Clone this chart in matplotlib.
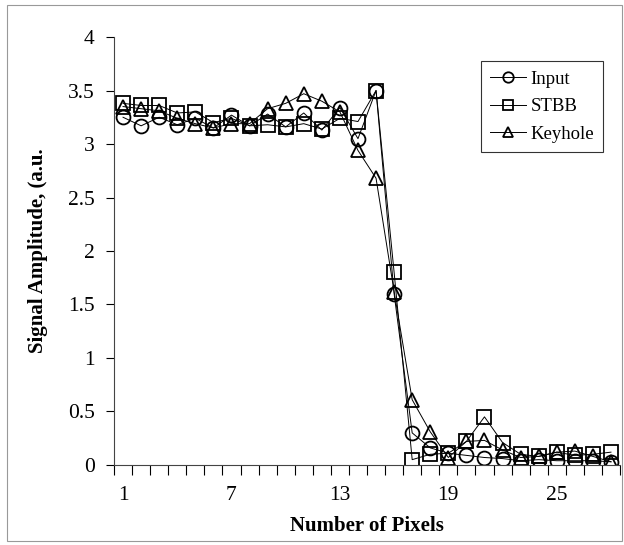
import numpy as np
import matplotlib
matplotlib.use("Agg")
import matplotlib.pyplot as plt
from matplotlib.patches import Rectangle

# pixel index (category axis)
pixels = list(range(1, 29))

input_signal = [3.25, 3.17, 3.25, 3.18, 3.24, 3.15, 3.27, 3.17, 3.28, 3.16,
                3.29, 3.13, 3.34, 3.05, 3.50, 1.60, 0.30, 0.16, 0.11, 0.09,
                0.07, 0.06, 0.04, 0.05, 0.04, 0.04, 0.04, 0.03]
stbb = [3.38, 3.36, 3.36, 3.29, 3.30, 3.20, 3.24, 3.17, 3.18, 3.16,
        3.19, 3.14, 3.24, 3.21, 3.50, 1.80, 0.05, 0.10, 0.11, 0.22,
        0.45, 0.21, 0.10, 0.08, 0.12, 0.09, 0.10, 0.12]
keyhole = [3.35, 3.33, 3.31, 3.24, 3.19, 3.15, 3.19, 3.19, 3.33, 3.38,
           3.47, 3.40, 3.30, 2.94, 2.68, 1.62, 0.61, 0.31, 0.07, 0.22,
           0.23, 0.14, 0.07, 0.08, 0.12, 0.13, 0.08, 0.03]

series = [
    ("Input", input_signal, "o"),
    ("STBB", stbb, "s"),
    ("Keyhole", keyhole, "^"),
]

xtick_labels = [1, 7, 13, 19, 25]
yticks = np.arange(0, 4.01, 0.5)

plt.rcParams["font.family"] = ["Liberation Serif", "DejaVu Serif"]

fig = plt.figure(figsize=(6.24, 5.45), dpi=100)
ax = fig.add_axes([0.1827, 0.1468, 0.8109, 0.7853])

for name, values, marker in series:
    ax.plot(pixels, values, color="black", linewidth=0.7, marker=marker,
            markersize=10, markerfacecolor="none", markeredgecolor="black",
            markeredgewidth=1.3, label=name)

ax.set_xlim(0.5, 28.5)
ax.set_ylim(0, 4)

ax.set_yticks(yticks)
ax.set_yticklabels([f"{v:g}" for v in yticks], fontsize=15.5)
ax.tick_params(axis="y", direction="out", length=6, width=0.8, pad=8)

# category axis: ticks between categories, labels every 6th
ax.set_xticks(xtick_labels)
ax.set_xticklabels([str(v) for v in xtick_labels], fontsize=15.5)
ax.tick_params(axis="x", which="major", length=0, pad=15)
ax.set_xticks(np.arange(0.5, 28.6, 1), minor=True)
ax.tick_params(axis="x", which="minor", direction="out", length=7, width=0.8)

for side in ["top", "right"]:
    ax.spines[side].set_visible(False)
for side in ["left", "bottom"]:
    ax.spines[side].set_linewidth(0.8)
    ax.spines[side].set_color("#444444")

ax.set_xlabel("Number of Pixels", fontsize=15, fontweight="bold", labelpad=8)
ax.set_ylabel("Signal Amplitude, (a.u.", fontsize=15, fontweight="bold", labelpad=14)

leg = ax.legend(loc="upper right", bbox_to_anchor=(0.9855, 0.965), fontsize=13.5,
                frameon=True, fancybox=False, edgecolor="black", handlelength=1.9,
                markerscale=0.75, borderpad=0.5, labelspacing=0.55, handletextpad=0.25)
leg.get_frame().set_linewidth(0.8)

# thin border around the whole figure
fig.patches.append(Rectangle((0.012, 0.008), 0.985, 0.982, transform=fig.transFigure,
                             fill=False, edgecolor="#999999", linewidth=0.8))

fig.savefig("out.png", dpi=100)
